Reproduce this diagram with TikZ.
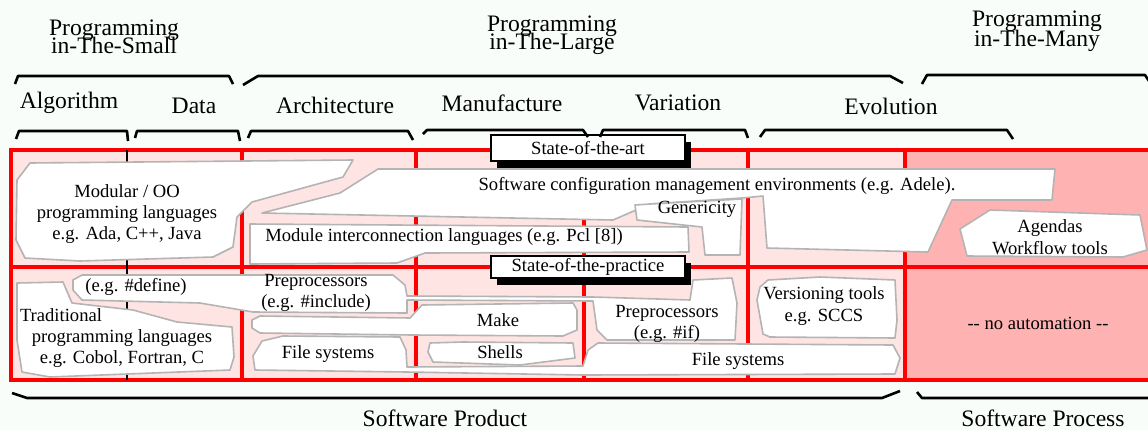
\documentclass[tikz,border=0pt]{standalone}
\usepackage{fontspec}
\setmainfont{Liberation Serif}
\usepackage{tikz}
\usetikzlibrary{shadows}
\definecolor{PageTint}{RGB}{249,253,250}
\definecolor{CellPink}{RGB}{255,228,228}
\definecolor{CellRose}{RGB}{255,178,178}
\definecolor{GridRed}{RGB}{255,0,0}
\definecolor{BlobGray}{RGB}{180,180,180}
\newcommand{\tightlines}{\lineskiplimit -20pt\relax}

\tikzset{
  blob/.style={draw=BlobGray, fill=white, line width=0.8pt, line join=round},
  gridline/.style={draw=GridRed, line width=1.8pt},
  brace/.style={draw=black, line width=1.3pt, line join=round},
  head/.style={font=\fontsize{11.8}{9}\selectfont\tightlines, align=center, inner sep=0pt},
  body/.style={font=\fontsize{9.3}{10.7}\selectfont, align=center, inner sep=0pt},
  statebox/.style={draw=black, fill=white, line width=0.8pt, minimum width=97pt,
    inner sep=0pt, font=\fontsize{9.3}{10.7}\selectfont,
    general shadow={fill=black, shadow xshift=3pt, shadow yshift=-3.5pt}}
}

\begin{document}
\begin{tikzpicture}[x=0.5pt, y=-0.5pt]
  \clip (0,0) rectangle (1148,430);
  \fill[PageTint] (0,0) rectangle (1148,430);

  % cells and grid
  \fill[CellPink] (11,150) rectangle (905,380);
  \fill[CellRose] (905,150) rectangle (1152,380);
  \draw[gridline] (11,150) rectangle (1152,380);
  \draw[gridline] (11,267) -- (1152,267);
  \foreach \x in {242,416,584,748,905}
    \draw[gridline] (\x,150) -- (\x,380);
  \draw[black, line width=1pt] (127,150) -- (127,380);

  % state of the art row
  \draw[blob] (30,163) -- (353,160) -- (343,177) -- (252,202) -- (237,217) -- (233,247) -- (213,257)
    -- (80,261) -- (25,258) -- (16,240) -- (17,180) -- cycle;
  \draw[blob] (340,193) -- (378,169) -- (1055,169) -- (1052,200) -- (952,200) -- (928,252) -- (767,248)
    -- (763,196) -- (742,198) -- (650,204) -- (613,220) -- (262,213) -- cycle;
  \draw[blob] (635,205) -- (650,204) -- (742,199) -- (740,255) -- (705,255) -- (702,227) -- (637,220) -- cycle;
  \draw[blob] (250,224) -- (688,227) -- (689,252) -- (425,253) -- (397,263) -- (250,264) -- cycle;
  \draw[blob] (960,229) -- (990,210) -- (1140,215) -- (1147,250) -- (1123,257) -- (967,256) -- cycle;

  % state of the practice row
  \draw[blob] (17,283) -- (63,282) -- (72,303) -- (133,310) -- (177,322) -- (232,327) -- (234,357)
    -- (230,370) -- (50,377) -- (22,372) -- (17,340) -- cycle;
  \draw[blob] (73,280) -- (82,275) -- (393,275) -- (405,285) -- (407,296) -- (593,297) -- (690,300)
    -- (693,280) -- (732,278) -- (737,303) -- (735,340) -- (607,340) -- (597,330) -- (593,301)
    -- (407,300) -- (407,313) -- (253,312) -- (200,303) -- (82,300) -- (73,290) -- cycle;
  \draw[blob] (252,320) -- (260,316) -- (410,318) -- (422,305) -- (573,303) -- (577,310) -- (577,330)
    -- (563,336) -- (413,335) -- (260,333) -- (252,328) -- cycle;
  \draw[blob] (430,343) -- (463,342) -- (573,343) -- (575,358) -- (520,365) -- (433,362) -- (428,352) -- cycle;
  \draw[blob] (253,356) -- (262,341) -- (283,336) -- (400,337) -- (406,350) -- (407,367) -- (583,366)
    -- (588,350) -- (598,343) -- (893,345) -- (900,358) -- (895,374) -- (583,375) -- (407,372)
    -- (255,370) -- cycle;
  \draw[blob] (760,287) -- (768,280) -- (820,277) -- (895,280) -- (897,320) -- (895,338) -- (770,337)
    -- (763,334) -- (757,300) -- cycle;

  \node[statebox, minimum height=13pt] (art) at (588,148) {State-of-the-art};
  \node[statebox, minimum height=11pt] (practice) at (588,267) {State-of-the-practice};

  % cell texts
  \node[body] (modular) at (127,214) {Modular / OO\\programming languages\\e.g. Ada, C++, Java};
  \node[body] (scm) at (717,186) {Software configuration management environments (e.g. Adele).};
  \node[body] (generic) at (697,209) {Genericity};
  \node[body] (mil) at (444,237) {Module interconnection languages (e.g. Pcl [8])};
  \node[body] (agenda) at (1050,237) {Agendas\\Workflow tools};
  \node[body] (define) at (136,287) {(e.g. \#define)};
  \node[body] (include) at (316,293) {Preprocessors\\(e.g. \#include)};
  \node[body] (trad) at (122,338) {Traditional\hspace*{61pt}\\programming languages\\e.g. Cobol, Fortran, C};
  \node[body] (make) at (498,320) {Make};
  \node[body] (shells) at (500,352) {Shells};
  \node[body] (fsleft) at (328,354) {File systems};
  \node[body] (ifpre) at (667,324) {Preprocessors\\(e.g. \#if)};
  \node[body] (fsright) at (738,361) {File systems};
  \node[body] (vcs) at (824,306) {Versioning tools\\e.g. SCCS};
  \node[body] (noauto) at (1038,323) {-{}- no automation -{}-};

  % headings
  \node[head] (small) at (114,37) {Programming\\in-The-Small};
  \node[head] (large) at (552,35) {Programming\\in-The-Large};
  \node[head, font=\fontsize{11.8}{10}\selectfont\tightlines] (many) at (1037,31) {Programming\\in-The-Many};
  \node[head] (algo) at (69,103) {Algorithm};
  \node[head] (data) at (194,106) {Data};
  \node[head] (arch) at (335,105) {Architecture};
  \node[head] (manuf) at (502,103) {Manufacture};
  \node[head] (vari) at (678,103) {Variation};
  \node[head] (evol) at (891,106) {Evolution};
  \node[head] (product) at (445,418) {Software Product};
  \node[head] (process) at (1043,418) {Software Process};

  % braces
  \draw[brace] (15,84) -- (18,76) -- (229,76) -- (233,84);
  \draw[brace] (243,85) -- (258,76) -- (890,76) -- (903,83);
  \draw[brace] (922,84) -- (927,75) -- (1145,75) -- (1149,81);
  \draw[brace] (16,139) -- (19,131) -- (127,131) -- (128,141);
  \draw[brace] (135,138) -- (137,131) -- (238,131) -- (240,141);
  \draw[brace] (248,138) -- (251,131) -- (408,131) -- (413,140);
  \draw[brace] (423,134) -- (427,130) -- (583,130) -- (588,137);
  \draw[brace] (600,137) -- (603,130) -- (745,130) -- (748,138);
  \draw[brace] (760,137) -- (765,130) -- (1007,130) -- (1013,139);
  \draw[brace] (12,393) -- (27,398) -- (882,398) -- (900,391);
  \draw[brace] (917,392) -- (922,398) -- (1150,398);
\end{tikzpicture}
\end{document}
